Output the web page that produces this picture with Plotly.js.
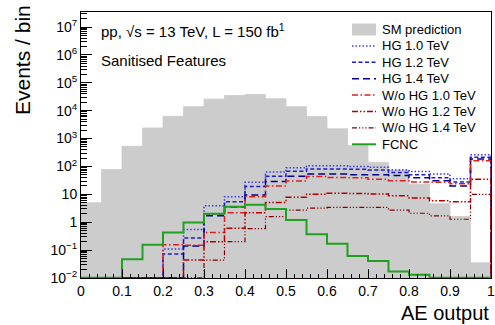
<!DOCTYPE html>
<html><head><meta charset="utf-8">
<script src="https://cdn.plot.ly/plotly-3.0.1.min.js"></script>
<style>html,body{margin:0;padding:0;background:#fff}#chart{width:495px;height:325px}</style>
</head><body><div id="chart"></div>
<script>
// ---- data ----
const binEdges = [0,0.05,0.1,0.15,0.2,0.25,0.3,0.35,0.4,0.45,0.5,0.55,0.6,0.65,0.7,0.75,0.8,0.85,0.9,0.95,1.0];
const smPrediction = [5, 78, 530, 2400, 6300, 14000, 26000, 35000, 38000, 27000, 14000, 6200, 2250, 560, 140, 75, 23, 4.6, 1.6, 0.035];
const hg10   = [0,0,0,0, 0.11, 0.55, 3.9, 8.2, 27, 63, 90, 107, 107, 100, 93, 75, 66, 54, 36, 265];
const hg12   = [0,0,0,0, 0.072, 0.27, 2.0, 5.4, 19, 45, 68, 81, 81, 80, 75, 61, 50, 39, 28, 213];
const hg14   = [0,0,0,0, 0, 0.14, 1.7, 3.5, 9.4, 29, 45, 54, 54, 50, 50, 47, 39, 31, 20, 186];
const woHg10 = [0,0,0,0, 0.155, 0.15, 0.43, 2.2, 8.2, 20, 30, 44, 40, 39, 35, 31, 28, 27, 24, 162];
const woHg12 = [0,0,0,0, 0, 0.044, 0.2, 0.61, 2.2, 5.1, 7.8, 10, 11, 10.8, 10.2, 8.9, 7.4, 5.9, 5.4, 35];
const woHg14 = [0,0,0,0, 0, 0, 0.044, 0.2, 0.59, 1.6, 2.7, 3.2, 3.4, 3.4, 3.4, 2.7, 2.1, 1.7, 1.28, 10];
const fcnc   = [0, 0, 0.047, 0.155, 0.43, 0.97, 2.0, 3.6, 4.2, 3.0, 1.2, 0.37, 0.17, 0.062, 0.041, 0.017, 0.013, 0, 0, 0];
const xTickVals = [0,0.1,0.2,0.3,0.4,0.5,0.6,0.7,0.8,0.9,1];
const xTickText = ['0','0.1','0.2','0.3','0.4','0.5','0.6','0.7','0.8','0.9','1'];
const yTickVals = [1e-2,1e-1,1,10,1e2,1e3,1e4,1e5,1e6,1e7];
const yTickText = ['10<sup>\u22122</sup>','10<sup>\u22121</sup>','1','10','10<sup>2</sup>','10<sup>3</sup>','10<sup>4</sup>','10<sup>5</sup>','10<sup>6</sup>','10<sup>7</sup>'];
const seriesNames = ['SM prediction','HG 1.0 TeV','HG 1.2 TeV','HG 1.4 TeV','W/o HG 1.0 TeV','W/o HG 1.2 TeV','W/o HG 1.4 TeV','FCNC'];

// ---- styling ----
const FLOOR = 0.0102; // empty bins drawn on the axis floor (log scale)
const FONT = 'Liberation Sans, Arial, Helvetica, sans-serif';
const styles = [
  {color:'#cccccc'},
  {color:'#3a3ae6', dash:'1.5px,2px', width:1.5},
  {color:'#1c1cc8', dash:'4px,2.5px', width:1.5},
  {color:'#00008c', dash:'7px,4px', width:1.5},
  {color:'#dd1f1f', dash:'6px,2.5px,1.5px,2.5px', width:1.5},
  {color:'#b30000', dash:'6px,2px,1.5px,2px,1.5px,2px', width:1.5},
  {color:'#800000', dash:'5px,2px,1.2px,2px,1.2px,2px,1.2px,2px', width:1.2},
  {color:'#1fa01f', dash:'solid', width:2}
];

function stepXY(vals){
  const x=[binEdges[0]], y=[FLOOR];
  vals.forEach((v,i)=>{ x.push(binEdges[i]); y.push(v>0?v:FLOOR); });
  const last = vals[vals.length-1]>0?vals[vals.length-1]:FLOOR;
  x.push(binEdges[binEdges.length-1]); y.push(last);
  x.push(binEdges[binEdges.length-1]); y.push(FLOOR);
  return {x,y};
}
const centers = smPrediction.map((_,i)=>(binEdges[i]+binEdges[i+1])/2);
const widths = smPrediction.map((_,i)=>binEdges[i+1]-binEdges[i]);

const traces = [{
  type:'bar', x:centers, y:smPrediction, width:widths, name:seriesNames[0],
  marker:{color:styles[0].color, line:{width:0.8, color:styles[0].color}}, hoverinfo:'skip'
}];
[hg10,hg12,hg14,woHg10,woHg12,woHg14,fcnc].forEach((s,k)=>{
  const st = styles[k+1], xy = stepXY(s);
  traces.push({type:'scatter', mode:'lines', x:xy.x, y:xy.y, name:seriesNames[k+1],
    line:{shape:'hv', color:st.color, dash:st.dash, width:st.width}, hoverinfo:'skip'});
});

// minor ticks for the log axis
const minorY = [];
for(let e=-2;e<=7;e++) for(let m=2;m<=9;m++) minorY.push(m*Math.pow(10,e));

// ---- manual legend (ROOT style) ----
const L=81, R=491, T=12, B=278;
const px2x = p => (p-L)/(R-L), py2y = p => (B-p)/(B-T);
const shapes = [], annotations = [];
seriesNames.forEach((n,i)=>{
  const row = 29.5 + 16.4*i;
  if(i===0){
    shapes.push({type:'rect', xref:'paper', yref:'paper', x0:px2x(352), x1:px2x(376), y0:py2y(row+6), y1:py2y(row-6),
      fillcolor:styles[0].color, line:{width:0}});
  } else {
    shapes.push({type:'line', xref:'paper', yref:'paper', x0:px2x(352), x1:px2x(376), y0:py2y(row), y1:py2y(row),
      line:{color:styles[i].color, dash:styles[i].dash, width:styles[i].width}});
  }
  annotations.push({xref:'paper', yref:'paper', x:px2x(380), y:py2y(row), xanchor:'left', yanchor:'middle',
    text:n, showarrow:false, font:{family:FONT, size:13, color:'#000'}});
});
annotations.push({xref:'paper', yref:'paper', x:px2x(99), y:py2y(30), xanchor:'left', yanchor:'middle',
  text:'pp, \u221As = 13 TeV, L = 150 fb<sup>1</sup>', showarrow:false, font:{family:FONT, size:15, color:'#000'}});
annotations.push({xref:'paper', yref:'paper', x:px2x(99), y:py2y(60), xanchor:'left', yanchor:'middle',
  text:'Sanitised Features', showarrow:false, font:{family:FONT, size:15, color:'#000'}});
annotations.push({xref:'paper', yref:'paper', x:px2x(22), y:py2y(60), xanchor:'center', yanchor:'middle', textangle:-90,
  text:'Events / bin', showarrow:false, font:{family:FONT, size:21, color:'#000'}});
annotations.push({xref:'paper', yref:'paper', x:px2x(491), y:py2y(313), xanchor:'right', yanchor:'middle',
  text:'AE output', showarrow:false, font:{family:FONT, size:20, color:'#000'}});

const layout = {
  width:495, height:325, margin:{l:L, r:495-R, t:T, b:325-B},
  paper_bgcolor:'#fff', plot_bgcolor:'#fff', showlegend:false, bargap:0,
  font:{family:FONT, size:14, color:'#000'},
  xaxis:{range:[0,1], tickmode:'array', tickvals:xTickVals, ticktext:xTickText, ticklabeloverflow:'allow',
    ticks:'inside', ticklen:9, tickwidth:1, tickcolor:'#000',
    showline:true, linecolor:'#000', linewidth:1, mirror:true, showgrid:false, zeroline:false,
    tickfont:{family:FONT, size:14},
    minor:{dtick:0.02, tick0:0, ticks:'inside', ticklen:4.5, tickcolor:'#000', showgrid:false}},
  yaxis:{type:'log', range:[-2,7.54], tickmode:'array', tickvals:yTickVals, ticktext:yTickText, ticklabeloverflow:'allow',
    ticks:'inside', ticklen:11, tickwidth:1, tickcolor:'#000',
    showline:true, linecolor:'#000', linewidth:1, mirror:true, showgrid:false, zeroline:false,
    tickfont:{family:FONT, size:14},
    minor:{tickmode:'array', tickvals:minorY, ticks:'inside', ticklen:5.5, tickcolor:'#000', showgrid:false}},
  shapes, annotations
};
Plotly.newPlot('chart', traces, layout, {displayModeBar:false, staticPlot:true});
</script></body></html>
